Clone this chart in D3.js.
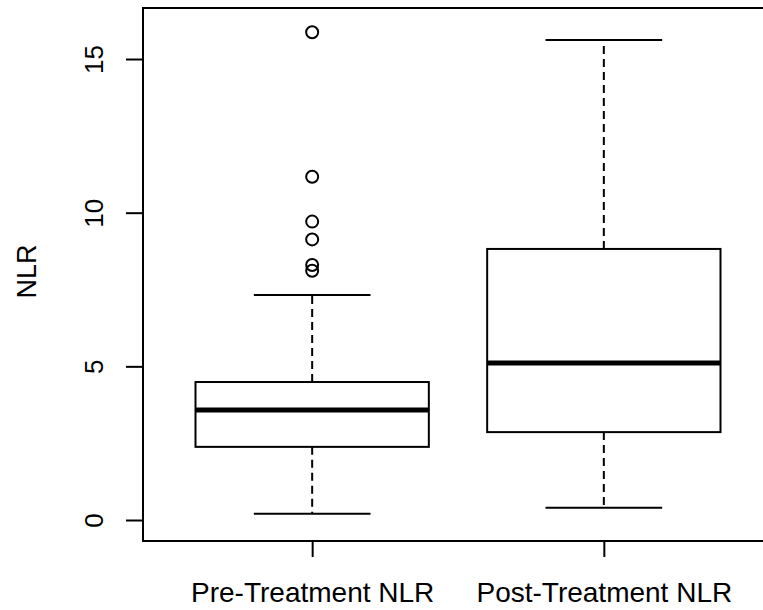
<!DOCTYPE html>
<html>
<head>
<meta charset="utf-8">
<script src="https://cdn.jsdelivr.net/npm/d3@7"></script>
<style>
  html, body { margin: 0; background: #fff; overflow: hidden; }
  svg { display: block; overflow: hidden; font-family: "Liberation Sans", Arial, sans-serif; }
</style>
</head>
<body>
<script>
// values
var groups = ["Pre-Treatment NLR", "Post-Treatment NLR"];
var lowerWhisker = [0.2, 0.4];
var q1 = [2.38, 2.86];
var median = [3.58, 5.11];
var q3 = [4.49, 8.82];
var upperWhisker = [7.32, 15.62];
var outliers = [[15.87, 11.17, 9.71, 9.13, 8.30, 8.11], []];
var yTicks = [0, 5, 10, 15];

var width = 763, height = 610;
var plot = {left: 143, right: 773, top: 8, bottom: 541};

var svg = d3.select("body").append("svg")
    .attr("width", width)
    .attr("height", height);

// R style: groups at 1,2 with xlim extended 4% (right edge falls off the page)
var x = d3.scaleLinear().domain([0.42, 2.58]).range([plot.left, plot.right]);
var y = d3.scaleLinear().domain([-0.683, 16.66]).range([plot.bottom, plot.top]);

var boxHalf = 0.4, capHalf = 0.2;

var data = groups.map(function(g, i) {
  return {name: g, pos: i + 1, lo: lowerWhisker[i], q1: q1[i], med: median[i],
          q3: q3[i], hi: upperWhisker[i], out: outliers[i]};
});

var box = svg.selectAll(".box")
    .data(data)
  .enter().append("g")
    .attr("class", "box");

// dashed whiskers
box.append("line")
    .attr("x1", function(d) { return x(d.pos); })
    .attr("x2", function(d) { return x(d.pos); })
    .attr("y1", function(d) { return y(d.q3); })
    .attr("y2", function(d) { return y(d.hi); })
    .style("stroke", "#000").style("stroke-width", 2).style("stroke-dasharray", "8,5");
box.append("line")
    .attr("x1", function(d) { return x(d.pos); })
    .attr("x2", function(d) { return x(d.pos); })
    .attr("y1", function(d) { return y(d.q1); })
    .attr("y2", function(d) { return y(d.lo); })
    .style("stroke", "#000").style("stroke-width", 2).style("stroke-dasharray", "8,5");

// caps
box.append("line")
    .attr("x1", function(d) { return x(d.pos - capHalf); })
    .attr("x2", function(d) { return x(d.pos + capHalf); })
    .attr("y1", function(d) { return y(d.hi); })
    .attr("y2", function(d) { return y(d.hi); })
    .style("stroke", "#000").style("stroke-width", 2);
box.append("line")
    .attr("x1", function(d) { return x(d.pos - capHalf); })
    .attr("x2", function(d) { return x(d.pos + capHalf); })
    .attr("y1", function(d) { return y(d.lo); })
    .attr("y2", function(d) { return y(d.lo); })
    .style("stroke", "#000").style("stroke-width", 2);

// box
box.append("rect")
    .attr("x", function(d) { return x(d.pos - boxHalf); })
    .attr("width", function(d) { return x(d.pos + boxHalf) - x(d.pos - boxHalf); })
    .attr("y", function(d) { return y(d.q3); })
    .attr("height", function(d) { return y(d.q1) - y(d.q3); })
    .style("fill", "#fff").style("stroke", "#000").style("stroke-width", 2);

// median
box.append("line")
    .attr("x1", function(d) { return x(d.pos - boxHalf); })
    .attr("x2", function(d) { return x(d.pos + boxHalf); })
    .attr("y1", function(d) { return y(d.med); })
    .attr("y2", function(d) { return y(d.med); })
    .style("stroke", "#000").style("stroke-width", 5);

// outliers
box.selectAll("circle")
    .data(function(d) { return d.out.map(function(v) { return {pos: d.pos, v: v}; }); })
  .enter().append("circle")
    .attr("cx", function(d) { return x(d.pos); })
    .attr("cy", function(d) { return y(d.v); })
    .attr("r", 6)
    .style("fill", "none").style("stroke", "#000").style("stroke-width", 2);

// frame (open on the right, which is off the page)
svg.append("path")
    .attr("d", "M" + width + "," + plot.top + "H" + plot.left + "V" + plot.bottom + "H" + width)
    .style("fill", "none").style("stroke", "#000").style("stroke-width", 2);

// y axis
var yAxis = svg.append("g")
    .attr("transform", "translate(" + plot.left + ",0)")
    .call(d3.axisLeft(y).tickValues(yTicks).tickSize(17).tickFormat(d3.format("d")));
yAxis.select(".domain").remove();
yAxis.selectAll(".tick line").style("stroke", "#000").style("stroke-width", 2);
yAxis.selectAll(".tick text")
    .attr("x", null).attr("dy", null)
    .attr("transform", "translate(-40,0) rotate(-90)")
    .style("text-anchor", "middle")
    .style("font-size", "26px")
    .style("fill", "#000")
    .style("font-family", "'Liberation Sans', Arial, sans-serif");

// x axis
var xAxis = svg.append("g")
    .attr("transform", "translate(0," + plot.bottom + ")")
    .call(d3.axisBottom(x).tickValues([1, 2]).tickSize(16)
      .tickFormat(function(d) { return groups[d - 1]; }));
xAxis.select(".domain").remove();
xAxis.selectAll(".tick line").style("stroke", "#000").style("stroke-width", 2);
xAxis.selectAll(".tick text")
    .attr("y", 61).attr("dy", null)
    .style("font-size", "28px")
    .style("fill", "#000")
    .style("font-family", "'Liberation Sans', Arial, sans-serif");

// y label
svg.append("text")
    .attr("transform", "translate(36," + ((plot.top + plot.bottom) / 2 - 3) + ") rotate(-90)")
    .style("text-anchor", "middle")
    .style("font-size", "27px")
    .text("NLR");
</script>
</body>
</html>
